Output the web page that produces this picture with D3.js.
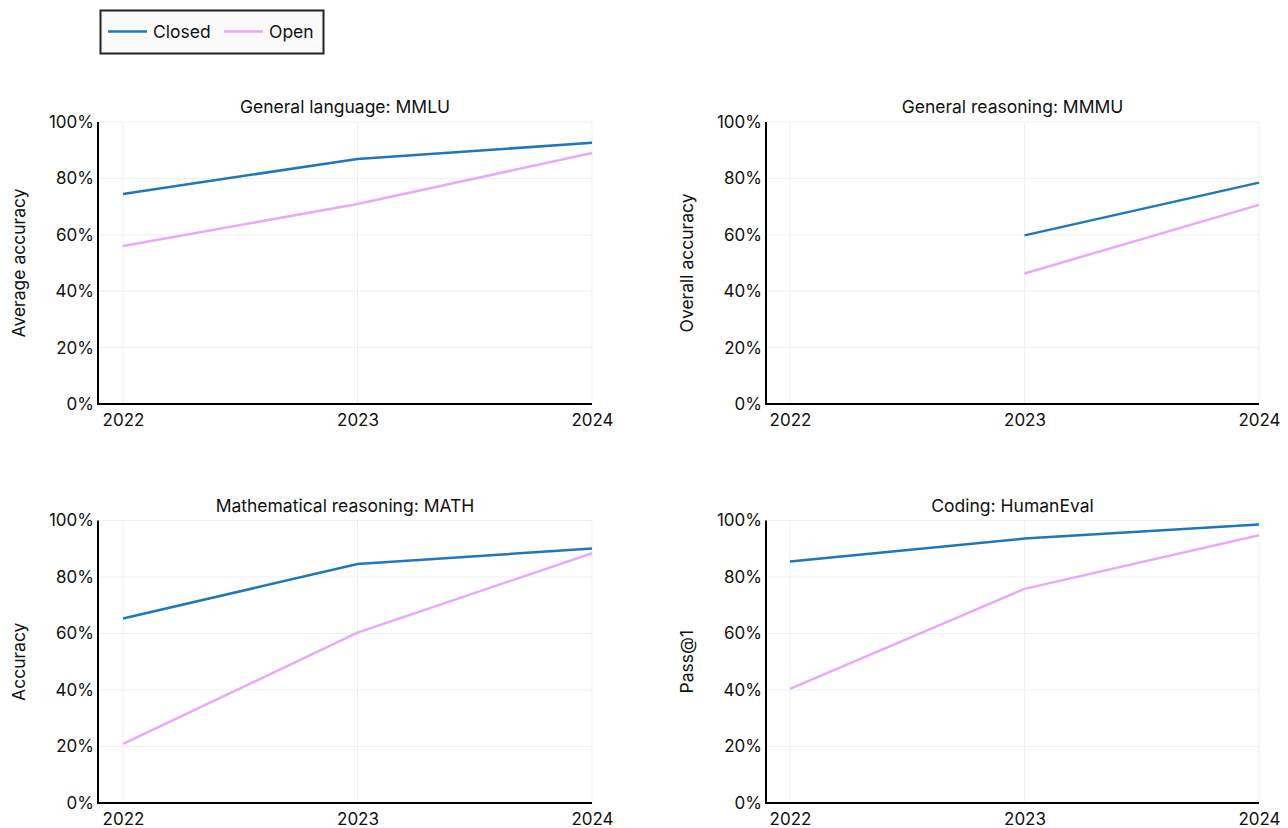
<!DOCTYPE html>
<html>
<head>
<meta charset="utf-8">
<script src="https://cdn.jsdelivr.net/npm/d3@7"></script>
<style>
  html, body { margin: 0; padding: 0; background: #ffffff; }
  svg { display: block; font-family: Inter, "Noto Sans", sans-serif; }
</style>
</head>
<body>
<svg id="chart" width="1288" height="828"></svg>
<script>
const years = [2022, 2023, 2024];
const yTicks = [0, 20, 40, 60, 80, 100];
const seriesNames = ["Closed", "Open"];
const seriesColors = ["#1f77b8", "#e8aaf8"];

const titles = ["General language: MMLU", "General reasoning: MMMU", "Mathematical reasoning: MATH", "Coding: HumanEval"];
const yLabels = ["Average accuracy", "Overall accuracy", "Accuracy", "Pass@1"];

const mmluClosed = [74.5, 86.9, 92.6];
const mmluOpen = [56.0, 70.9, 89.0];
const mmmuClosed = [null, 59.8, 78.5];
const mmmuOpen = [null, 46.3, 70.6];
const mathClosed = [65.3, 84.6, 90.1];
const mathOpen = [20.9, 60.3, 88.4];
const humanevalClosed = [85.5, 93.6, 98.6];
const humanevalOpen = [40.4, 75.8, 94.8];

const panelData = [
  [mmluClosed, mmluOpen],
  [mmmuClosed, mmmuOpen],
  [mathClosed, mathOpen],
  [humanevalClosed, humanevalOpen]
];

const svg = d3.select("#chart");

// layout
const panels = [
  { axisX: 98,  x0: 123, x1: 592, yTop: 122, yBot: 404 },
  { axisX: 766, x0: 790, x1: 1259, yTop: 122, yBot: 404 },
  { axisX: 98,  x0: 123, x1: 592, yTop: 520.5, yBot: 803 },
  { axisX: 766, x0: 790, x1: 1259, yTop: 520.5, yBot: 803 }
];

panels.forEach((p, i) => {
  const g = svg.append("g");
  const x = d3.scaleLinear().domain([years[0], years[years.length - 1]]).range([p.x0, p.x1]);
  const y = d3.scaleLinear().domain([0, 100]).range([p.yBot, p.yTop]);

  // grid
  g.append("g").selectAll("line.h").data(yTicks.slice(1)).join("line")
    .attr("x1", p.axisX).attr("x2", p.x1)
    .attr("y1", d => y(d)).attr("y2", d => y(d))
    .attr("stroke", "#efefef").attr("stroke-width", 1);
  g.append("g").selectAll("line.v").data(years).join("line")
    .attr("x1", d => x(d)).attr("x2", d => x(d))
    .attr("y1", p.yTop).attr("y2", p.yBot)
    .attr("stroke", "#efefef").attr("stroke-width", 1);

  // y axis
  const yAxis = d3.axisLeft(y).tickValues(yTicks).tickSize(0).tickPadding(4).tickFormat(d => d + "%");
  const ya = g.append("g").attr("transform", `translate(${p.axisX},0)`).call(yAxis);
  ya.select(".domain").attr("stroke", "#000").attr("stroke-width", 2).attr("d", `M0,${p.yTop}V${p.yBot + 1}`);
  ya.selectAll("text").attr("font-size", 17).attr("fill", "#111").attr("font-family", "Inter, sans-serif");

  // x axis
  const xAxis = d3.axisBottom(x).tickValues(years).tickSize(0).tickPadding(10).tickFormat(d3.format("d"));
  const xa = g.append("g").attr("transform", `translate(0,${p.yBot})`).call(xAxis);
  xa.select(".domain").attr("stroke", "#000").attr("stroke-width", 2).attr("d", `M${p.axisX - 1},0H${p.x1}`);
  xa.selectAll("text").attr("font-size", 17).attr("fill", "#111").attr("font-family", "Inter, sans-serif");

  // lines
  const line = d3.line()
    .defined(d => d.v !== null)
    .x(d => x(d.year)).y(d => y(d.v));
  panelData[i].forEach((vals, si) => {
    const pts = years.map((yr, k) => ({ year: yr, v: vals[k] }));
    g.append("path").datum(pts)
      .attr("d", line)
      .attr("fill", "none")
      .attr("stroke", seriesColors[si])
      .attr("stroke-width", 2.5);
  });

  // title
  g.append("text")
    .attr("x", (p.axisX + p.x1) / 2).attr("y", p.yTop - 9)
    .attr("text-anchor", "middle").attr("font-size", 17.5).attr("fill", "#111")
    .text(titles[i]);

  // y label
  g.append("text")
    .attr("transform", `translate(${p.axisX - 73},${(p.yTop + p.yBot) / 2}) rotate(-90)`)
    .attr("text-anchor", "middle").attr("font-size", 17.5).attr("fill", "#111")
    .text(yLabels[i]);
});

// legend
const lg = svg.append("g");
lg.append("rect").attr("x", 100.5).attr("y", 10.5).attr("width", 223).attr("height", 43)
  .attr("fill", "#fafafa").attr("stroke", "#222").attr("stroke-width", 2);
const legendX = [108, 224];
seriesNames.forEach((name, i) => {
  lg.append("line").attr("x1", legendX[i]).attr("x2", legendX[i] + 39)
    .attr("y1", 31.5).attr("y2", 31.5)
    .attr("stroke", seriesColors[i]).attr("stroke-width", 2.5);
  lg.append("text").attr("x", legendX[i] + 45).attr("y", 38)
    .attr("font-size", 17.5).attr("fill", "#111").text(name);
});
</script>
</body>
</html>
